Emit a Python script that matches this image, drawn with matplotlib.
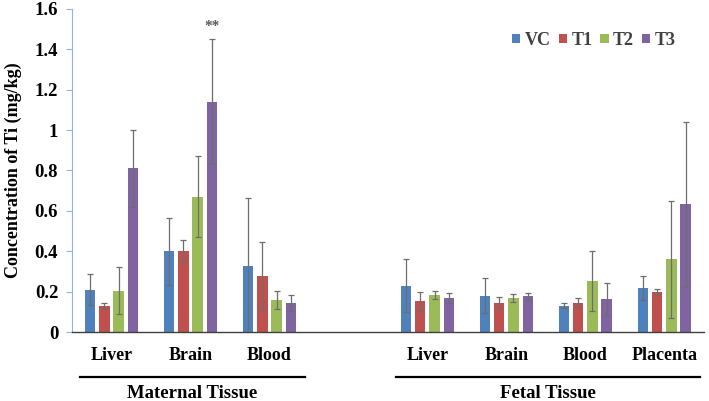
import matplotlib.pyplot as plt
import matplotlib.transforms as mtransforms
import numpy as np

plt.rcParams['font.family'] = ['Liberation Serif', 'DejaVu Serif']
plt.rcParams['font.weight'] = 'bold'

# data
groups = ["VC", "T1", "T2", "T3"]
colors = ["#4F81BD", "#C0504D", "#9BBB59", "#8064A2"]
categories = ["Liver", "Brain", "Blood", "", "Liver", "Brain", "Blood", "Placenta"]
means = {
    "VC": [0.21, 0.40, 0.325, np.nan, 0.23, 0.18, 0.13, 0.217],
    "T1": [0.13, 0.40, 0.275, np.nan, 0.152, 0.145, 0.145, 0.198],
    "T2": [0.205, 0.67, 0.157, np.nan, 0.183, 0.168, 0.252, 0.36],
    "T3": [0.81, 1.14, 0.145, np.nan, 0.167, 0.177, 0.163, 0.632],
}
errors = {
    "VC": [0.078, 0.165, 0.34, np.nan, 0.13, 0.087, 0.013, 0.06],
    "T1": [0.014, 0.055, 0.17, np.nan, 0.046, 0.028, 0.022, 0.013],
    "T2": [0.115, 0.20, 0.045, np.nan, 0.021, 0.018, 0.147, 0.29],
    "T3": [0.19, 0.31, 0.04, np.nan, 0.024, 0.018, 0.08, 0.41],
}
tissue_groups = ["Maternal Tissue", "Fetal Tissue"]
sig_label = "**"

fig = plt.figure(figsize=(7.09, 4.01), dpi=100)
ax = fig.add_axes([0.1016, 0.172, 0.891, 0.806])

x = np.arange(len(categories)) + 0.5
width = 0.133
pitch = 0.181
for i, g in enumerate(groups):
    offs = (i - 1.5) * pitch
    ax.bar(x + offs, means[g], width, color=colors[i], label=g, zorder=2)
    ax.errorbar(x + offs, means[g], yerr=errors[g], fmt="none", ecolor="#6d6d6d",
                elinewidth=0.9, capsize=2.2, capthick=0.9, zorder=3)

ax.set_xlim(0, len(categories))
ax.set_ylim(0, 1.6)
ax.set_yticks(np.arange(0, 1.61, 0.2))
ax.set_yticklabels(["0", "0.2", "0.4", "0.6", "0.8", "1", "1.2", "1.4", "1.6"],
                   fontsize=13.5, fontweight="bold")
ax.set_xticks(x)
ax.set_xticklabels(categories, fontsize=13, fontweight="bold")
ax.tick_params(axis="x", length=0, pad=11)
ax.tick_params(axis="y", length=4, width=0.8, color="#8EB4E3", pad=6)
ax.spines["top"].set_visible(False)
ax.spines["right"].set_visible(False)
ax.spines["left"].set_color("#8EB4E3")
ax.spines["bottom"].set_color("#404040")
ax.spines["bottom"].set_linewidth(1.0)
ax.set_ylabel("Concentration of Ti (mg/kg)", fontsize=13, fontweight="bold", labelpad=9)

# significance mark
ax.text(x[1] + 1.5 * pitch, means["T3"][1] + errors["T3"][1] + 0.03, sig_label,
        ha="center", va="bottom", fontsize=11, color="#595959")

# tissue brackets
trans = mtransforms.blended_transform_factory(ax.transData, ax.transAxes)
spans = [(0.1, 2.95), (4.1, 7.95)]
for (x0, x1), name in zip(spans, tissue_groups):
    ax.plot([x0, x1], [-0.139, -0.139], color="black", lw=1.6, transform=trans, clip_on=False)
    ax.text((x0 + x1) / 2, -0.19, name, transform=trans, ha="center", va="center",
            fontsize=13.5, fontweight="bold")

leg = ax.legend(loc="center", bbox_to_anchor=(0.826, 0.902), ncol=4, frameon=False,
                handlelength=0.45, handleheight=0.45, handletextpad=0.25, columnspacing=0.45,
                borderpad=0.2, prop={"weight": "bold", "size": 13})
for t in leg.get_texts():
    t.set_color("#404040")

fig.savefig("out.png", dpi=100)
